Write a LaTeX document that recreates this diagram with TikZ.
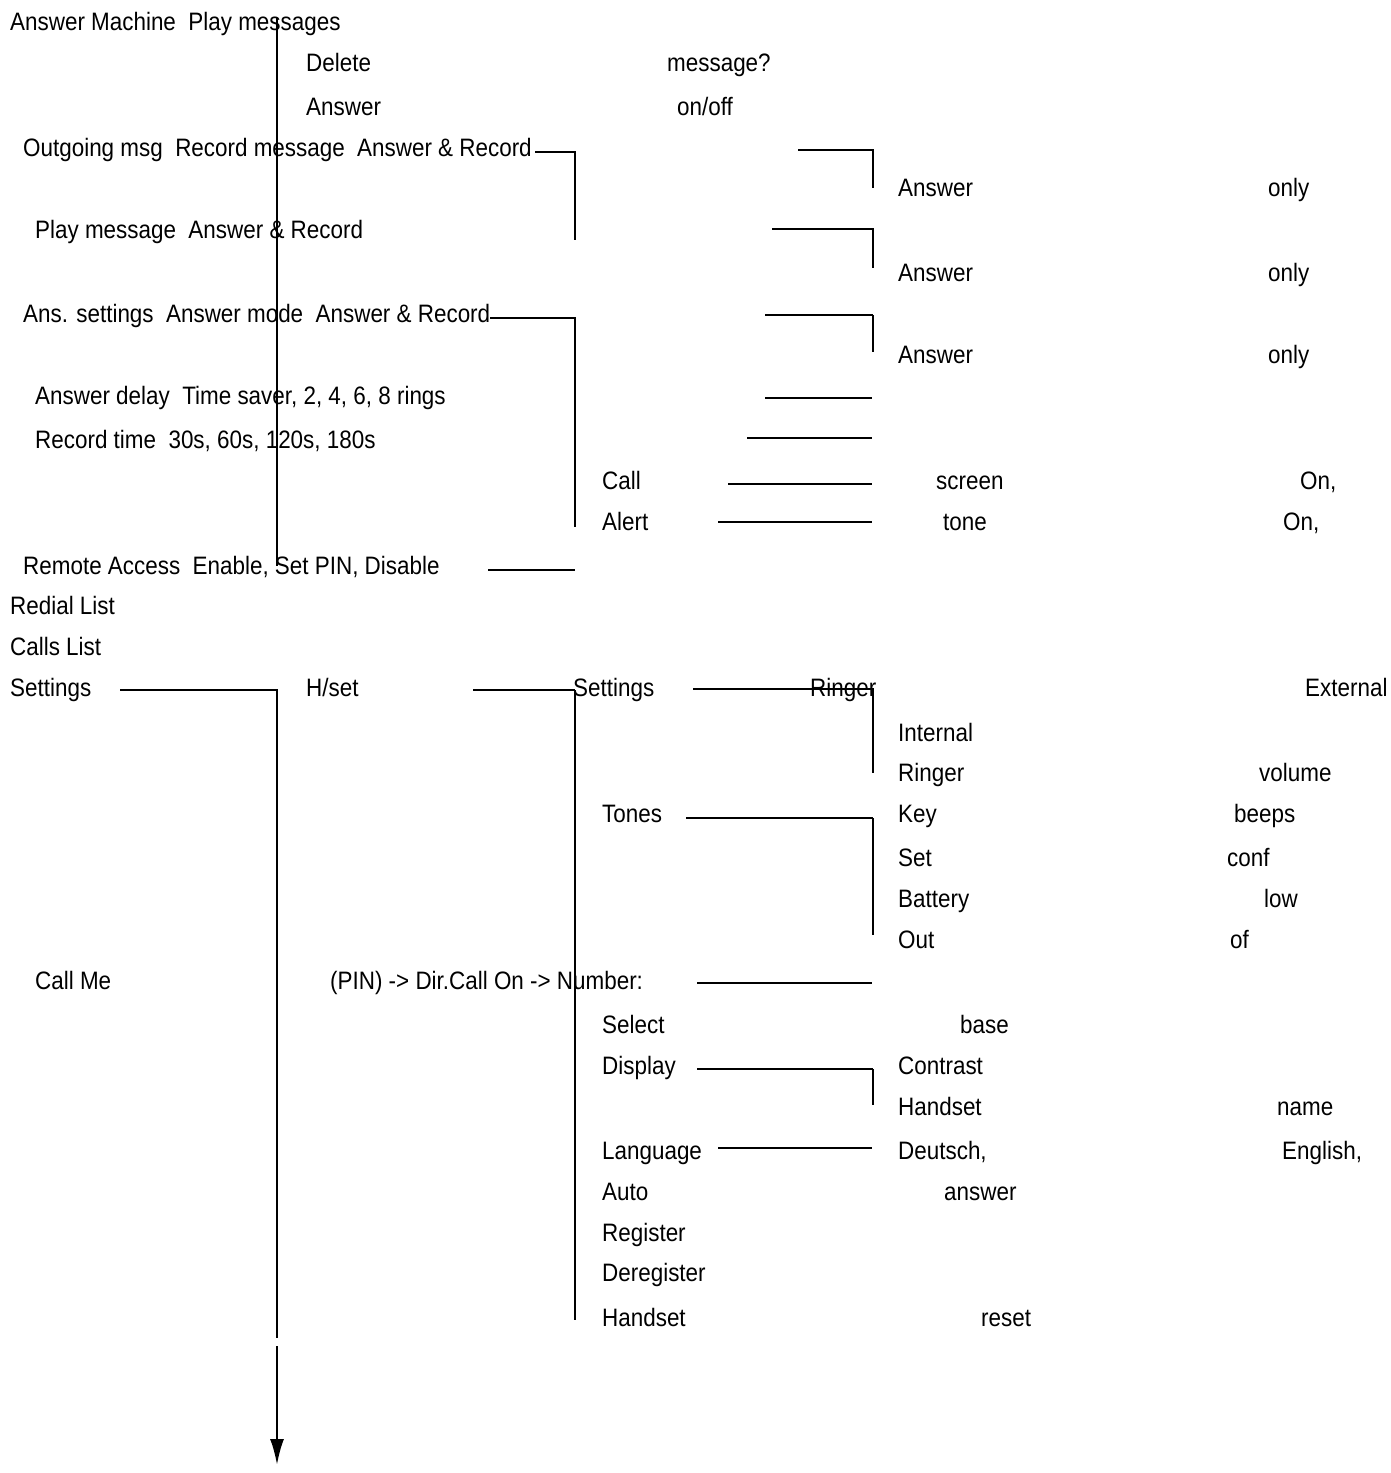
\documentclass[tikz,border=0pt]{standalone}
\usetikzlibrary{arrows.meta}
\usepackage{fontspec}
\setmainfont[FakeStretch=0.89]{Liberation Sans}
\begin{document}
\begin{tikzpicture}[x=1pt,y=-1pt,
  t/.style={anchor=base west,inner sep=0pt,yshift=-8.5pt,font=\fontsize{25.2}{27}\selectfont},
  ln/.style={line width=1.3pt},
  tk/.style={line width=2.4pt}]
\useasboundingbox (0,0) rectangle (1390,1473);
\foreach \x/\y/\s [count=\i] in {
10/22/{Answer Machine\ \ Play messages},
306/63/Delete, 667/63/message?,
306/107/Answer, 677/107/{on{/}off},
23/148/{Outgoing msg\ \ Record message\ \ Answer \& Record},
898/188/Answer, 1268/188/only,
35/230/{Play message\ \ Answer \& Record},
898/273/Answer, 1268/273/only,
23/314/{Ans. settings\ \ Answer mode\ \ Answer \& Record},
898/355/Answer, 1268/355/only,
35/396/{Answer delay\ \ Time saver, 2, 4, 6, 8 rings},
35/440/{Record time\ \ 30s, 60s, 120s, 180s},
602/481/Call, 936/481/screen, 1300/481/{On,},
602/522/Alert, 943/522/tone, 1283/522/{On,},
23/566/{Remote Access\ \ Enable, Set PIN, Disable},
10/606/Redial List, 10/647/Calls List,
10/688/Settings, 306/688/{H{/}set}, 573/688/Settings, 810/688/Ringer, 1305/688/External,
898/733/Internal, 898/773/Ringer, 1259/773/volume,
602/814/Tones, 898/814/Key, 1234/814/beeps,
898/858/Set, 1227/858/conf,
898/899/Battery, 1264/899/low,
898/940/Out, 1230/940/of,
35/981/Call Me, 330/981/{(PIN) -> Dir.Call On -> Number:},
602/1025/Select, 960/1025/base,
602/1066/Display, 898/1066/Contrast,
898/1107/Handset, 1277/1107/name,
602/1151/Language, 898/1151/{Deutsch,}, 1282/1151/{English,},
602/1192/Auto, 944/1192/answer,
602/1233/Register, 602/1273/Deregister,
602/1318/Handset, 981/1318/reset}
  \node[t] (n\i) at (\x,\y) {\s};
\coordinate (a1) at (277,18); \coordinate (a2) at (277,566);
\draw[line width=2.6pt] (a1) -- (a2);
\coordinate (s1) at (120,690); \coordinate (s2) at (277,690); \coordinate (s3) at (277,1338);
\coordinate (s4) at (277,1346); \coordinate (s5) at (277,1465);
\draw[tk] (s1) -- (s2) -- (s3);
\draw[tk,-{Latex[length=26pt,width=14pt]}] (s4) -- (s5);
\draw[ln] (535,152) -- (575,152) -- (575,240);
\draw[ln] (490,318) -- (575,318) -- (575,527);
\draw[ln] (488,570) -- (575,570);
\draw[ln] (798,150) -- (873,150) -- (873,188);
\draw[ln] (772,229) -- (873,229) -- (873,268);
\draw[tk] (765,315) -- (873,315); \draw[ln] (873,315) -- (873,352);
\draw[ln] (765,398) -- (872,398);
\draw[ln] (747,438) -- (872,438);
\draw[ln] (728,484) -- (872,484);
\draw[ln] (718,522) -- (872,522);
\draw[tk] (473,690) -- (575,690); \draw[ln] (575,690) -- (575,1320);
\draw[ln] (693,689) -- (873,689) -- (873,773);
\draw[tk] (686,818) -- (873,818); \draw[ln] (873,818) -- (873,935);
\draw[ln] (697,983) -- (872,983);
\draw[tk] (697,1069) -- (873,1069); \draw[ln] (873,1069) -- (873,1105);
\draw[ln] (718,1148) -- (872,1148);
\end{tikzpicture}
\end{document}
